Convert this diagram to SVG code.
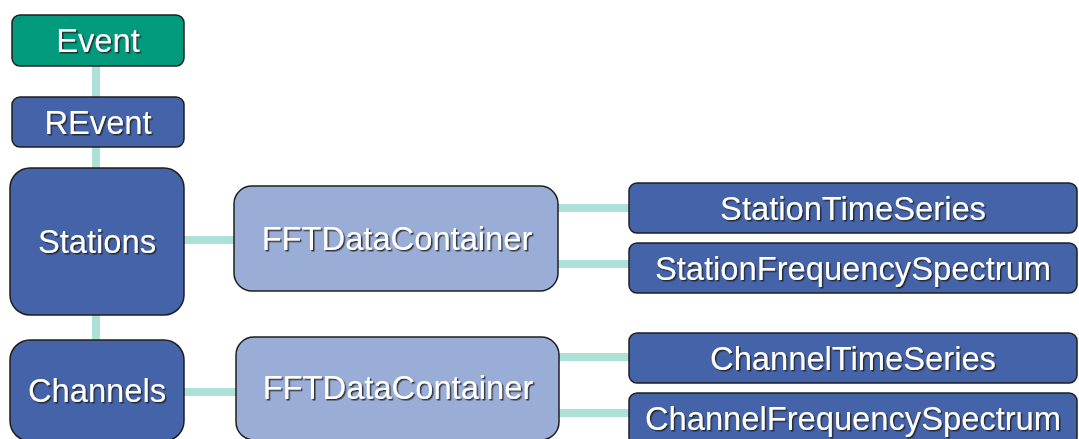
<svg xmlns="http://www.w3.org/2000/svg" width="1079" height="439" viewBox="0 0 1079 439">
<defs>
<filter id="sh" x="-10%" y="-20%" width="120%" height="150%">
<feDropShadow dx="1.5" dy="1.5" stdDeviation="0.6" flood-color="#1a1a1a" flood-opacity="0.85"/>
</filter>
</defs>
<style>
.box{stroke:#1e1e1e;stroke-width:1.5}
.teal{fill:#019a7c}
.dark{fill:#4563a8}
.light{fill:#99add7}
.lbl{font-family:"Liberation Sans",Arial,sans-serif;font-size:32.7px;fill:#ffffff;text-anchor:middle;filter:url(#sh)}
.con{stroke:#ade0d7;stroke-width:8;fill:none}
</style>
<rect width="1079" height="439" fill="#ffffff"/>
<g id="connectors">
<line class="con" x1="96" y1="66" x2="96" y2="97"/>
<line class="con" x1="96" y1="147" x2="96" y2="168"/>
<line class="con" x1="96" y1="315" x2="96" y2="340"/>
<line class="con" x1="184" y1="240" x2="235" y2="240"/>
<line class="con" x1="558" y1="208" x2="630" y2="208"/>
<line class="con" x1="558" y1="264" x2="630" y2="264"/>
<line class="con" x1="184" y1="392" x2="237" y2="392"/>
<line class="con" x1="559" y1="357" x2="630" y2="357"/>
<line class="con" x1="559" y1="413" x2="630" y2="413"/>
</g>
<g id="event">
<rect class="box teal" x="12" y="15" width="172" height="51" rx="8"/>
<text class="lbl" x="98" y="52">Event</text>
</g>
<g id="revent">
<rect class="box dark" x="12" y="97" width="172" height="50" rx="8"/>
<text class="lbl" x="98" y="133.5">REvent</text>
</g>
<g id="stations">
<rect class="box dark" x="10" y="168" width="174" height="147" rx="20"/>
<text class="lbl" x="97" y="253">Stations</text>
</g>
<g id="fft1">
<rect class="box light" x="234" y="186" width="324" height="105" rx="18"/>
<text class="lbl" x="397" y="250">FFTDataContainer</text>
</g>
<g id="stationtimeseries">
<rect class="box dark" x="629" y="183" width="448" height="50" rx="8"/>
<text class="lbl" x="853" y="219.5">StationTimeSeries</text>
</g>
<g id="stationfrequencyspectrum">
<rect class="box dark" x="629" y="243" width="448" height="50" rx="8"/>
<text class="lbl" x="853" y="279.5">StationFrequencySpectrum</text>
</g>
<g id="channels">
<rect class="box dark" x="10" y="340" width="174" height="101" rx="20"/>
<text class="lbl" x="97" y="402">Channels</text>
</g>
<g id="fft2">
<rect class="box light" x="236" y="337" width="323" height="103" rx="18"/>
<text class="lbl" x="398" y="399">FFTDataContainer</text>
</g>
<g id="channeltimeseries">
<rect class="box dark" x="629" y="333" width="448" height="50" rx="8"/>
<text class="lbl" x="853" y="369.5">ChannelTimeSeries</text>
</g>
<g id="channelfrequencyspectrum">
<rect class="box dark" x="629" y="393" width="448" height="52" rx="8"/>
<text class="lbl" x="853" y="430">ChannelFrequencySpectrum</text>
</g>
</svg>
